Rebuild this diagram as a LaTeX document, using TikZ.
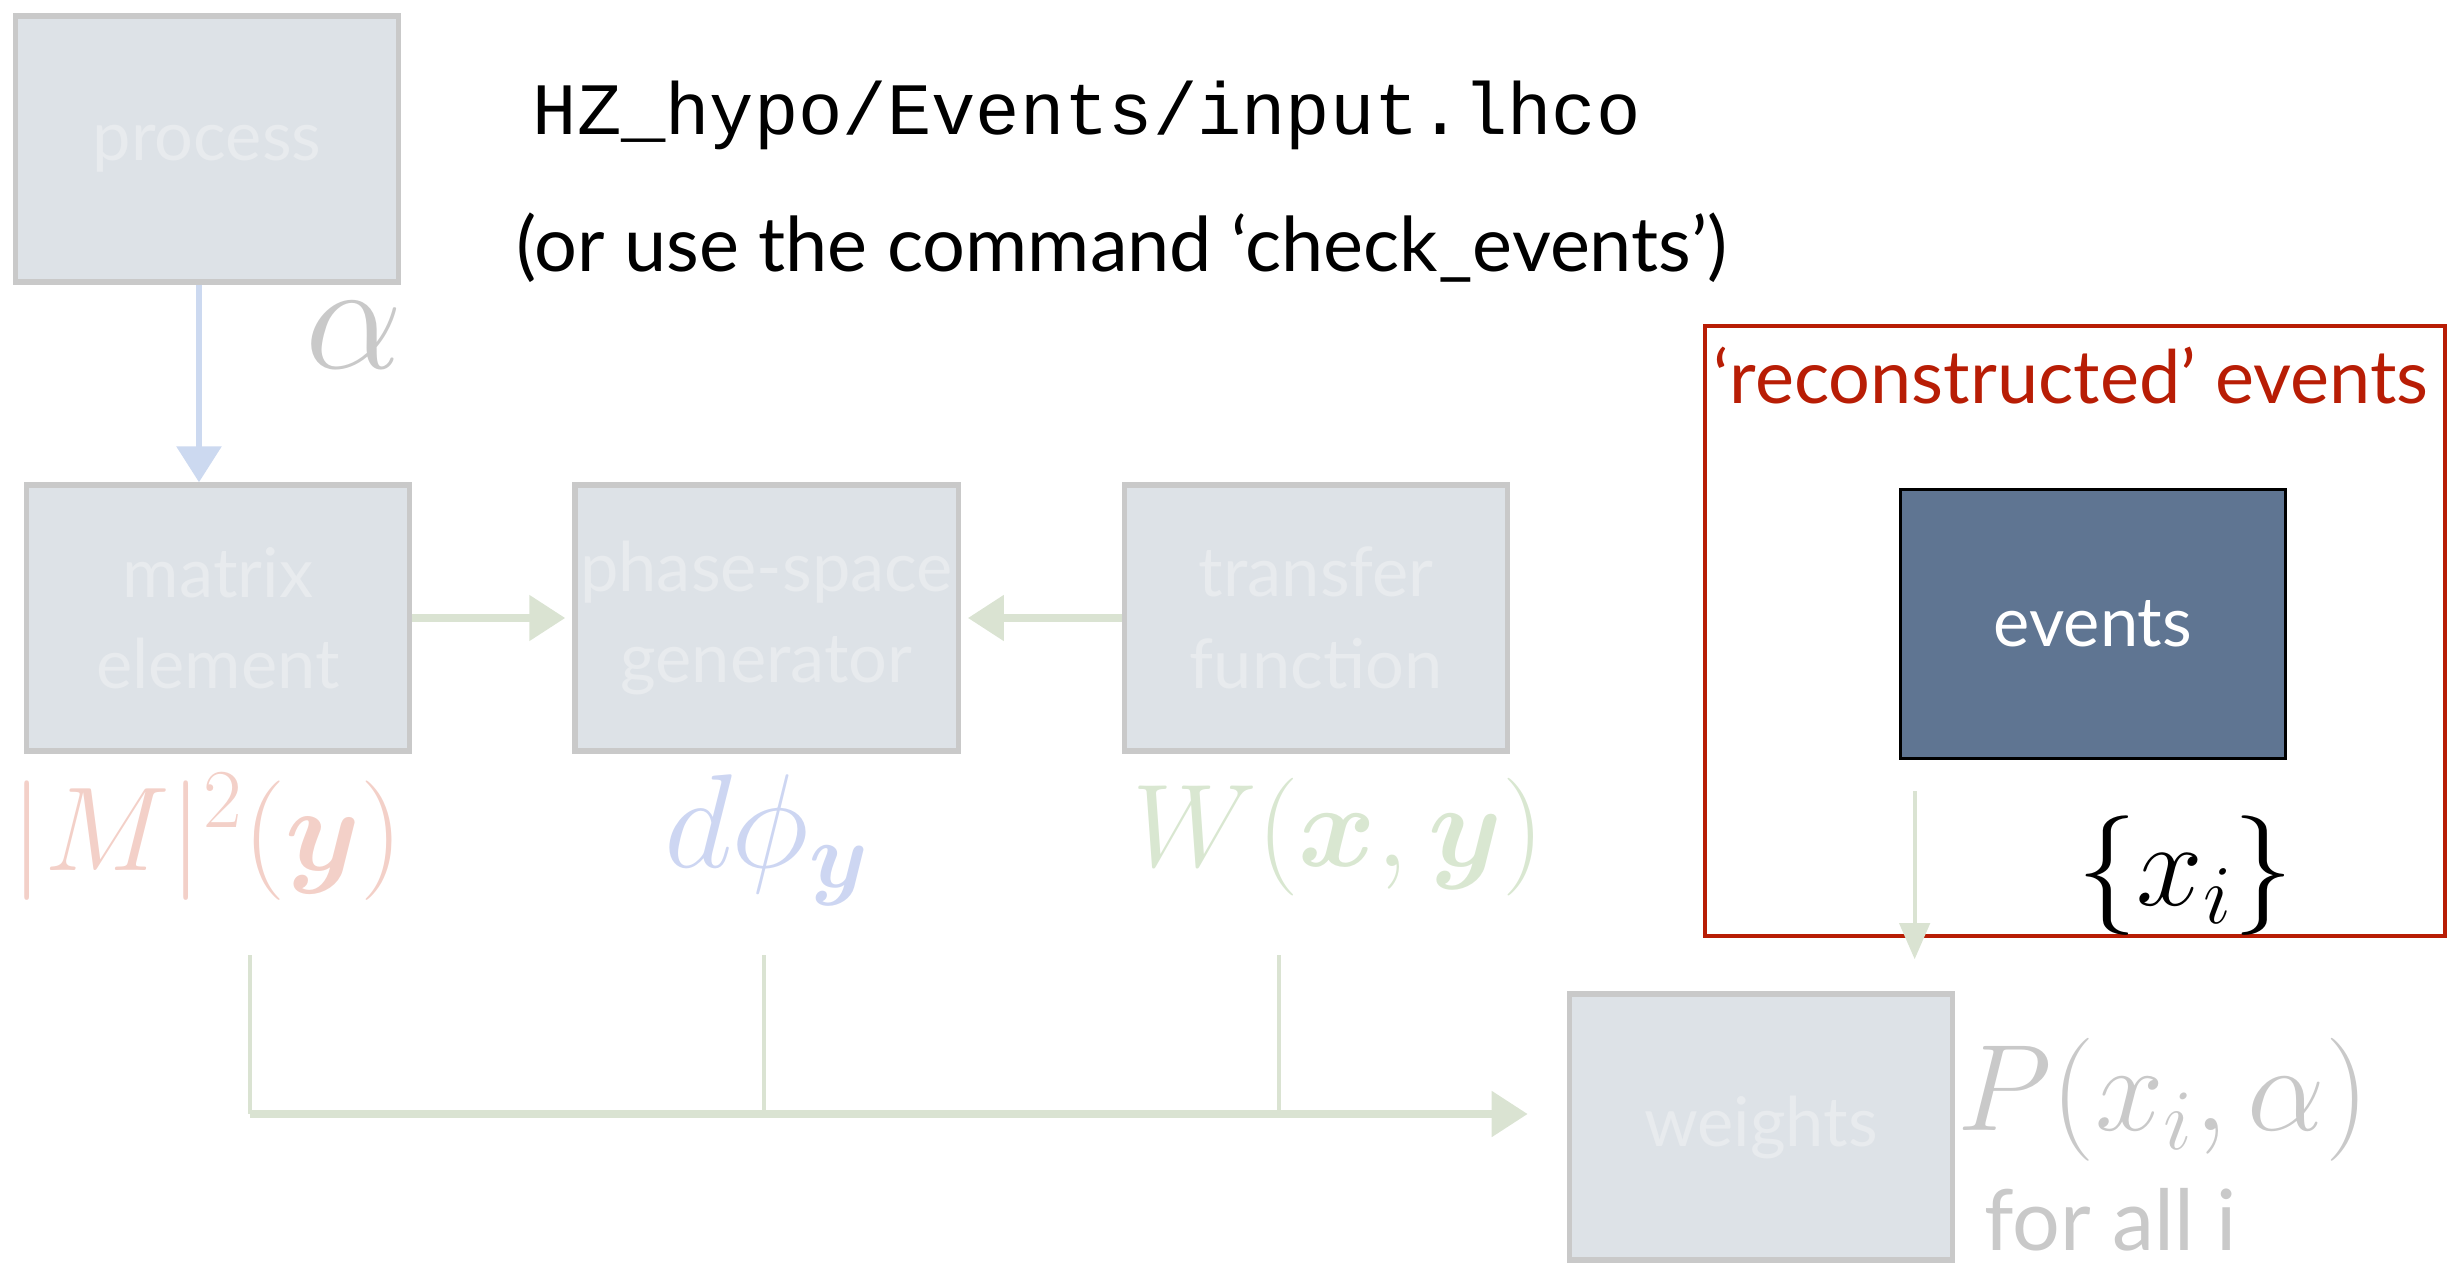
\RequirePackage{fix-cm}
\documentclass[tikz,border=0pt]{standalone}
\usepackage{amsmath}
\usepackage{fontspec}
\setsansfont{Lato}
\setmonofont{Liberation Mono}
\usepackage{xcolor}
\usetikzlibrary{arrows.meta,positioning}

\definecolor{boxfill}{HTML}{DDE2E7}
\definecolor{boxline}{HTML}{C9C9C9}
\definecolor{boxtext}{HTML}{E8EBEE}
\definecolor{fadegray}{HTML}{C9C9C9}
\definecolor{mepink}{HTML}{F3D0C8}
\definecolor{psblue}{HTML}{CDD6F2}
\definecolor{tfgreen}{HTML}{D9E7D1}
\definecolor{arrowblue}{HTML}{CCD9F0}
\definecolor{arrowgreen}{HTML}{DAE3D2}
\definecolor{framered}{HTML}{B81D05}
\definecolor{evfill}{HTML}{5F7592}

\newcommand{\fs}[1]{\fontsize{#1}{1.2\dimexpr#1pt\relax}\selectfont}

\begin{document}
\begin{tikzpicture}[x=0.01cm,y=-0.01cm,node distance=1.6cm,
  stage/.style={draw=boxline,line width=1.5pt,fill=boxfill,rectangle,
    minimum width=3.83cm,minimum height=2.66cm,inner sep=0pt,align=center,
    text=boxtext,font=\sffamily\fontsize{19.5}{26}\selectfont},
  flow/.style={line width=2.3pt,-{Triangle[length=0.36cm,width=0.44cm]}},
  feed/.style={line width=1.2pt,-{Triangle[length=0.36cm,width=0.3cm]}}]
\useasboundingbox (0,0) rectangle (2454,1270);

\node[stage] (process) at (207,149) {process};
\node[stage] (matrix) at (218,618) {matrix\\element};
\node[stage,right=1.6cm of matrix] (phase) {phase-space\\generator};
\node[stage,right=1.61cm of phase] (transfer) {transfer\\function};
\node[stage,fill=evfill,draw=black,line width=1pt,text=white,minimum width=3.85cm,minimum height=2.69cm] (events) at (2093,624) {events};
\node[stage] (weights) at (1761,1127) {weights};

\node[draw=framered,line width=1.2pt,minimum width=7.39cm,minimum height=6.1cm] (reco) at (2075,631) {};
\node[text=framered,font=\sffamily\fs{21}] (recotitle) at (2071,376) {‘reconstructed’ events};

\node[anchor=west,inner sep=0pt,font=\ttfamily\fs{21}] (lhco) at (532,115) {HZ\_hypo/Events/input.lhco};
\node[anchor=west,inner sep=0pt,font=\sffamily\fs{21.5}] (hint) at (516,248) {(or use the command ‘check\_events’)};

\node[text=fadegray,font=\fs{44}] (alpha) at (354,335) {$\alpha$};
\node[text=mepink,font=\fs{34}] (melabel) at (207,837) {$|M|^2(\boldsymbol{y})$};
\node[text=psblue,font=\fs{38}] (pslabel) at (767,840) {$d\phi_{\boldsymbol{y}}$};
\node[text=tfgreen,font=\fs{33.5}] (tflabel) at (1338,837) {$W(\boldsymbol{x},\boldsymbol{y})$};
\node[font=\fs{34}] (xlabel) at (2185,876) {$\{x_i\}$};
\node[text=fadegray,font=\fs{35}] (plabel) at (2163,1100) {$P(x_i,\alpha)$};
\node[anchor=base west,text=fadegray,font=\sffamily\fs{24}] (forall) at (1972,1250) {for all i};

\coordinate (mefoot) at (250,955);
\coordinate (psfoot) at (764,955);
\coordinate (tffoot) at (1279,955);
\coordinate (bus) at (250,1114);

\draw[flow,arrowblue,line width=1.8pt] ([xshift=-0.08cm]process.south) -- ([xshift=-0.08cm]process.south |- matrix.north);
\draw[flow,arrowgreen] (matrix.east) -- ([xshift=-2pt]matrix.east -| phase.west);
\draw[flow,arrowgreen] (transfer.west) -- ([xshift=2pt]transfer.west -| phase.east);
\draw[arrowgreen,line width=1.2pt] (mefoot) -- (mefoot |- bus);
\draw[arrowgreen,line width=1.2pt] (psfoot) -- (psfoot |- bus);
\draw[arrowgreen,line width=1.2pt] (tffoot) -- (tffoot |- bus);
\draw[flow,arrowgreen,shorten >=0.39cm] (bus) -- (bus -| weights.west);
\draw[feed,arrowgreen,shorten <=0.31cm,shorten >=0.32cm] ([xshift=0.16cm]events.south west) -- ([xshift=0.16cm]events.south west |- weights.north);
\end{tikzpicture}
\end{document}
